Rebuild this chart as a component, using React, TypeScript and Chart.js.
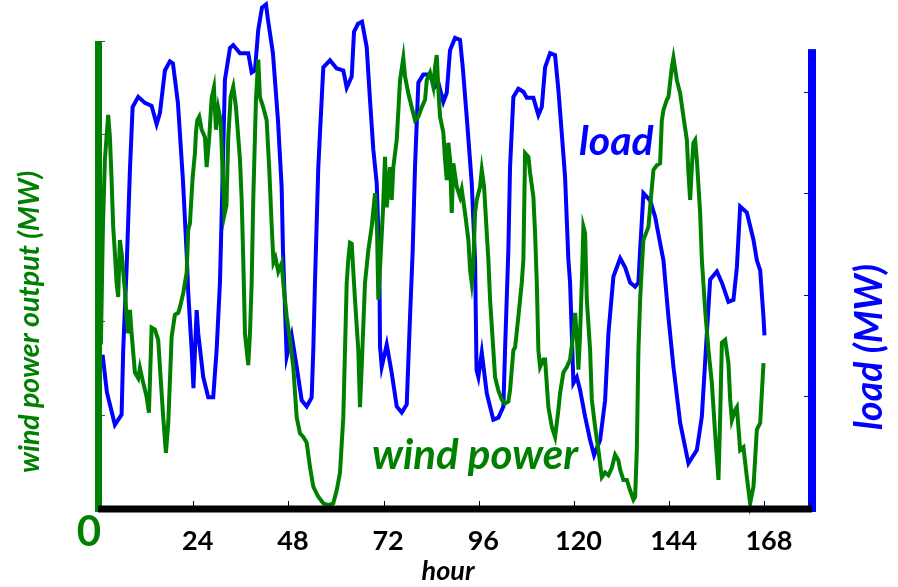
import React, { useEffect, useRef } from 'react';
import { Chart, registerables } from 'chart.js';

Chart.register(...registerables);

// ---- data ----
const loadHours = [1.16, 2.24, 4.26, 5.95, 6.36, 7.21, 8.05, 8.73, 10.14, 11.83, 13.52, 14.78, 15.61, 16.87, 18.13, 18.89, 20.15, 21.41, 22.35, 22.75, 23.61, 24.06, 24.87, 25.27, 26.53, 27.79, 29.05, 29.91, 30.74, 31.0, 32.0, 33.27, 34.1, 35.79, 37.88, 38.74, 39.57, 40.4, 41.34, 42.35, 42.85, 44.1, 45.37, 46.3, 46.63, 47.57, 48.83, 50.09, 51.35, 52.61, 53.87, 54.28, 54.7, 55.54, 55.96, 56.8, 58.49, 60.18, 61.84, 62.7, 63.96, 64.54, 65.55, 66.56, 67.74, 68.57, 69.41, 70.26, 70.92, 71.1, 71.53, 72.79, 74.05, 75.31, 76.57, 77.83, 78.66, 79.34, 79.92, 80.76, 82.02, 83.71, 84.97, 85.8, 87.06, 87.92, 88.75, 90.01, 91.27, 91.96, 92.96, 94.22, 95.06, 95.43, 95.89, 96.75, 98.01, 99.67, 100.93, 102.2, 102.62, 103.45, 103.88, 104.72, 105.98, 107.24, 108.1, 109.76, 111.02, 111.88, 112.71, 113.97, 115.23, 116.06, 116.92, 117.75, 118.59, 119.01, 119.44, 119.85, 120.71, 121.54, 122.8, 124.06, 125.07, 126.58, 127.84, 128.68, 129.94, 131.63, 132.89, 134.15, 135.41, 136.24, 136.67, 137.5, 139.19, 140.45, 141.71, 142.55, 143.81, 145.07, 146.76, 148.85, 150.97, 152.23, 153.49, 154.33, 156.02, 157.28, 158.94, 160.2, 161.06, 161.89, 163.58, 165.25, 166.1, 166.94, 167.77, 168.02];
const loadMW = [441, 404, 372, 382, 446, 526, 623, 685, 695, 689, 686, 668, 679, 721, 730, 728, 689, 613, 541, 502, 446, 408, 485, 462, 419, 399, 399, 446, 512, 551, 712, 743, 746, 738, 738, 719, 721, 761, 783, 786, 771, 738, 672, 606, 544, 439, 460, 429, 396, 390, 399, 446, 512, 626, 659, 724, 731, 723, 721, 704, 715, 759, 767, 769, 744, 692, 643, 610, 534, 449, 429, 451, 423, 390, 384, 392, 478, 544, 626, 709, 717, 717, 705, 709, 690, 699, 741, 753, 751, 724, 675, 610, 534, 426, 419, 443, 403, 377, 379, 390, 446, 544, 626, 695, 703, 700, 694, 694, 677, 685, 724, 738, 736, 702, 659, 616, 534, 512, 462, 413, 419, 406, 380, 357, 342, 357, 396, 462, 518, 536, 527, 512, 508, 512, 544, 600, 593, 577, 551, 534, 478, 429, 374, 334, 347, 380, 462, 515, 523, 512, 493, 495, 527, 587, 581, 554, 534, 524, 478, 460];

const windHours = [0.73, 1.24, 1.74, 2.57, 3.0, 3.43, 3.83, 4.26, 4.69, 5.09, 5.52, 5.95, 6.78, 7.21, 7.62, 8.05, 8.47, 9.31, 10.14, 10.57, 11.4, 12.26, 12.84, 13.52, 14.35, 15.18, 15.61, 16.44, 17.12, 17.71, 18.56, 19.39, 20.23, 20.66, 21.49, 22.35, 22.75, 23.18, 23.86, 24.44, 24.69, 25.02, 25.52, 26.13, 26.96, 27.39, 28.05, 28.65, 29.23, 29.74, 30.32, 30.92, 31.43, 31.88, 32.38, 32.84, 33.44, 34.1, 34.78, 35.36, 35.79, 36.22, 36.62, 37.05, 37.88, 38.31, 38.74, 39.14, 39.82, 40.4, 40.83, 41.66, 42.52, 43.18, 43.78, 44.24, 44.74, 45.45, 46.31, 46.71, 47.57, 48.4, 49.23, 50.09, 50.92, 51.75, 52.61, 53.44, 54.27, 54.7, 55.54, 56.8, 58.06, 59.32, 60.18, 61.01, 61.84, 62.27, 62.7, 63.1, 63.53, 63.96, 64.79, 65.62, 66.05, 66.48, 67.31, 68.15, 69.0, 69.84, 70.34, 70.67, 71.1, 71.85, 72.36, 72.79, 73.62, 74.05, 74.45, 75.31, 76.14, 76.97, 77.4, 78.23, 79.09, 79.92, 80.76, 81.61, 82.45, 82.88, 83.71, 84.54, 84.97, 85.4, 85.8, 86.23, 87.06, 87.49, 87.92, 88.32, 88.75, 89.18, 89.58, 90.44, 91.27, 91.7, 92.53, 93.37, 93.8, 94.22, 94.55, 95.06, 95.49, 96.32, 96.75, 97.33, 98.01, 98.41, 98.84, 99.67, 100.1, 100.93, 101.79, 102.62, 103.45, 103.88, 104.72, 105.15, 105.98, 106.83, 107.24, 107.67, 108.5, 108.93, 109.76, 110.19, 110.62, 111.02, 111.45, 112.28, 112.71, 113.54, 114.4, 115.23, 116.06, 116.49, 117.33, 118.18, 119.01, 119.85, 120.28, 120.71, 121.11, 121.54, 121.97, 122.37, 122.8, 123.23, 124.06, 124.49, 125.32, 126.15, 127.01, 127.84, 128.68, 129.53, 130.37, 131.2, 131.63, 132.46, 133.32, 134.15, 134.98, 135.41, 135.84, 136.24, 136.67, 137.1, 137.5, 138.76, 139.19, 140.03, 140.88, 141.71, 142.14, 142.55, 143.4, 143.81, 144.67, 145.07, 145.93, 146.76, 147.59, 148.45, 148.85, 149.28, 149.71, 150.11, 150.54, 150.97, 151.8, 152.23, 153.06, 153.9, 154.75, 155.58, 156.42, 156.85, 157.28, 158.11, 158.94, 159.37, 159.8, 160.63, 161.06, 161.89, 162.72, 163.58, 164.41, 165.25, 166.1, 166.94, 167.77];
const windMW = [175, 301, 373, 421, 397, 351, 301, 273, 241, 226, 287, 273, 233, 205, 187, 212, 187, 145, 139, 150, 134, 119, 102, 193, 191, 180, 151, 97, 59, 91, 183, 207, 209, 215, 230, 252, 298, 305, 354, 380, 402, 415, 419, 405, 397, 365, 397, 439, 450, 405, 428, 415, 359, 314, 324, 397, 440, 451, 429, 397, 373, 330, 266, 187, 153, 187, 241, 330, 437, 480, 440, 429, 415, 362, 303, 263, 268, 253, 262, 241, 205, 180, 151, 97, 80, 76, 70, 44, 23, 19, 12, 5, 3, 5, 19, 38, 97, 169, 241, 266, 284, 283, 223, 169, 108, 151, 241, 276, 301, 337, 298, 223, 258, 319, 376, 322, 365, 330, 365, 394, 458, 482, 462, 444, 429, 415, 419, 429, 437, 458, 466, 451, 472, 485, 448, 419, 402, 373, 351, 391, 373, 316, 369, 344, 333, 341, 316, 287, 255, 241, 255, 316, 330, 344, 362, 344, 294, 266, 223, 169, 140, 126, 116, 112, 114, 126, 169, 172, 205, 241, 266, 380, 376, 359, 333, 294, 241, 169, 151, 159, 159, 108, 87, 76, 105, 123, 145, 151, 159, 187, 209, 183, 148, 187, 241, 301, 294, 223, 169, 116, 87, 62, 33, 38, 35, 43, 57, 51, 41, 30, 30, 19, 9, 12, 62, 169, 223, 258, 287, 301, 322, 362, 367, 369, 415, 426, 437, 440, 472, 482, 458, 444, 419, 394, 359, 330, 365, 391, 394, 373, 316, 266, 212, 169, 134, 80, 30, 97, 177, 180, 155, 116, 94, 105, 108, 62, 65, 33, 5, 23, 84, 91, 155];

const hourTicks = [0, 24, 48, 72, 96, 120, 144, 168];
const windTicks = [100, 200, 300, 400, 500];
const loadTicks = [400, 500, 600, 700];

const GREEN = '#008000';
const BLUE = '#0000ff';

export default function App() {
  const canvasRef = useRef<HTMLCanvasElement | null>(null);

  useEffect(() => {
    const canvas = canvasRef.current;
    if (!canvas) return;

    const decor = {
      id: 'decor',
      afterDatasetsDraw(chart: any) {
        const { ctx, chartArea: ca, scales } = chart;
        const xs = scales.x;
        const yW = scales.yWind;
        const yL = scales.yLoad;
        ctx.save();
        ctx.lineWidth = 1;
        ctx.strokeStyle = '#000';
        hourTicks.forEach((h) => {
          const px = Math.round(xs.getPixelForValue(h)) + 0.5;
          ctx.beginPath();
          ctx.moveTo(px, ca.bottom - 2);
          ctx.lineTo(px, ca.bottom - 7);
          ctx.stroke();
        });
        ctx.strokeStyle = GREEN;
        windTicks.forEach((v) => {
          const py = Math.round(yW.getPixelForValue(v)) + 0.5;
          ctx.beginPath();
          ctx.moveTo(ca.left + 3, py);
          ctx.lineTo(ca.left + 7, py);
          ctx.stroke();
        });
        ctx.strokeStyle = BLUE;
        loadTicks.forEach((v) => {
          const py = Math.round(yL.getPixelForValue(v)) + 0.5;
          ctx.beginPath();
          ctx.moveTo(ca.right - 4, py);
          ctx.lineTo(ca.right - 8, py);
          ctx.stroke();
        });
        ctx.fillStyle = GREEN;
        ctx.fillRect(ca.left - 3, ca.top, 7, ca.bottom - ca.top + 4);
        ctx.fillStyle = BLUE;
        const blueTop = yL.getPixelForValue(742);
        ctx.fillRect(ca.right - 4, blueTop, 8, ca.bottom + 4 - blueTop);
        ctx.fillStyle = '#000';
        ctx.fillRect(ca.left, ca.bottom - 2.5, ca.right - ca.left, 7);
        ctx.restore();
      },
      afterDraw(chart: any) {
        const { ctx, scales } = chart;
        const xs = scales.x;
        ctx.save();
        ctx.fillStyle = GREEN;
        ctx.font = 'bold 42px Lato';
        ctx.textAlign = 'center';
        ctx.textBaseline = 'alphabetic';
        ctx.fillText('0', xs.getPixelForValue(0) - 9, 545.5);
        ctx.textAlign = 'left';
        ctx.font = 'italic bold 41px Lato';
        ctx.fillStyle = BLUE;
        ctx.fillText('load', 579, 155);
        ctx.font = 'italic bold 42px Lato';
        ctx.fillStyle = GREEN;
        ctx.fillText('wind power', 372, 469);
        ctx.fillStyle = '#000';
        ctx.textAlign = 'center';
        ctx.font = 'italic bold 27px Lato';
        ctx.fillText('hour', 448, 580);
        ctx.save();
        ctx.translate(30, 322);
        ctx.rotate(-Math.PI / 2);
        ctx.fillStyle = GREEN;
        ctx.textBaseline = 'middle';
        ctx.font = 'italic bold 28.5px Lato';
        ctx.fillText('wind power output (MW)', 0, 0);
        ctx.restore();
        ctx.save();
        ctx.translate(870, 347);
        ctx.rotate(-Math.PI / 2);
        ctx.fillStyle = BLUE;
        ctx.textBaseline = 'middle';
        ctx.font = 'italic bold 37.5px Lato';
        ctx.fillText('load (MW)', 0, 0);
        ctx.restore();
        ctx.restore();
      },
    };

    const chart = new Chart(canvas, {
      type: 'line',
      data: {
        datasets: [
          {
            label: 'wind power',
            data: windHours.map((h, i) => ({ x: h, y: windMW[i] })),
            yAxisID: 'yWind',
            borderColor: GREEN,
            borderWidth: 4,
            pointRadius: 0,
            tension: 0,
            fill: false,
            clip: false as any,
          },
          {
            label: 'load',
            data: loadHours.map((h, i) => ({ x: h, y: loadMW[i] })),
            yAxisID: 'yLoad',
            borderColor: BLUE,
            borderWidth: 4,
            pointRadius: 0,
            tension: 0,
            fill: false,
            clip: false as any,
          },
        ],
      },
      options: {
        animation: false,
        responsive: false,
        maintainAspectRatio: false,
        events: [],
        layout: { padding: { left: 98, right: 86, top: 41, bottom: 0 } },
        plugins: {
          legend: { display: false },
          tooltip: { enabled: false },
          title: { display: false },
        },
        scales: {
          x: {
            type: 'linear',
            position: 'bottom',
            min: 0,
            max: 180,
            grid: { display: false },
            border: { display: false },
            afterBuildTicks: (s: any) => {
              s.ticks = hourTicks.map((v) => ({ value: v }));
            },
            afterFit: (s: any) => {
              s.height = 79;
            },
            ticks: {
              autoSkip: false,
              maxRotation: 0,
              padding: 9.5,
              labelOffset: 4.5,
              color: '#000',
              font: { family: 'Lato', size: 27, weight: 'bold' },
              callback: (v: any) => (v === 0 ? '' : String(v)),
            },
          },
          yWind: {
            type: 'linear',
            position: 'left',
            min: 0,
            max: 500,
            display: false,
          },
          yLoad: {
            type: 'linear',
            position: 'right',
            min: 290,
            max: 750,
            display: false,
          },
        },
      } as any,
      plugins: [decor],
    });

    return () => chart.destroy();
  }, []);

  return (
    <div style={{ position: 'fixed', left: 0, top: 0, width: 898, height: 587, background: '#fff' }}>
      <canvas ref={canvasRef} width={898} height={587} style={{ width: 898, height: 587, display: 'block' }} />
    </div>
  );
}
